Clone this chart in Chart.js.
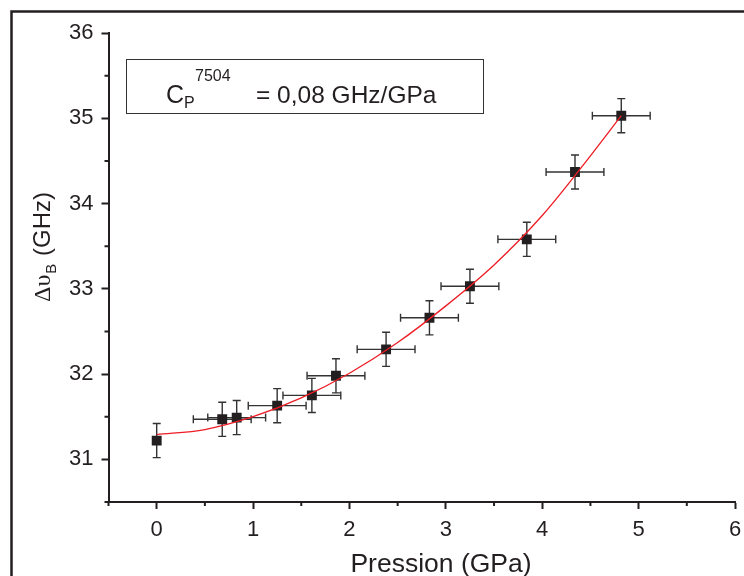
<!DOCTYPE html>
<html>
<head>
<meta charset="utf-8">
<script src="https://cdn.jsdelivr.net/npm/chart.js@4"></script>
<style>
  html, body { margin: 0; padding: 0; background: #fff; }
  #wrap { width: 744px; height: 576px; }
</style>
</head>
<body>
<div id="wrap"><canvas id="brillouin" width="744" height="576"></canvas></div>
<script>
// measured points
const pressure = [0, 0.68, 0.83, 1.25, 1.61, 1.86, 2.38, 2.83, 3.25, 3.84, 4.34, 4.82];
const shift    = [31.22, 31.47, 31.49, 31.63, 31.75, 31.98, 32.29, 32.66, 33.03, 33.58, 34.37, 35.03];
const xErr     = [0, 0.3, 0.3, 0.3, 0.3, 0.3, 0.3, 0.3, 0.3, 0.3, 0.3, 0.3];
const yErr     = [0.2, 0.2, 0.2, 0.2, 0.2, 0.2, 0.2, 0.2, 0.2, 0.2, 0.2, 0.2];

// red fit curve
const fitX = [0, 0.5, 1, 1.5, 2, 2.5, 3, 3.5, 4, 4.5, 4.82];
const fitY = [31.29, 31.35, 31.5, 31.72, 32.01, 32.37, 32.8, 33.28, 33.86, 34.56, 35.03];

const ink = '#231f20';

const points = pressure.map((x, i) => ({ x, y: shift[i] }));
const fit = fitX.map((x, i) => ({ x, y: fitY[i] }));

const isMajor = v => Math.abs(v - Math.round(v)) < 1e-6;

const errorBars = {
    id: 'errorBars',
    beforeDatasetsDraw(chart) {
        const { ctx, scales: { x, y } } = chart;
        ctx.save();
        ctx.strokeStyle = '#333';
        ctx.lineWidth = 1.4;
        const cap = 4;
        pressure.forEach((p, i) => {
            const px = x.getPixelForValue(p);
            const py = y.getPixelForValue(shift[i]);
            ctx.beginPath();
            if (yErr[i]) {
                const y0 = y.getPixelForValue(shift[i] - yErr[i]);
                const y1 = y.getPixelForValue(shift[i] + yErr[i]);
                ctx.moveTo(px, y0); ctx.lineTo(px, y1);
                ctx.moveTo(px - cap, y0); ctx.lineTo(px + cap, y0);
                ctx.moveTo(px - cap, y1); ctx.lineTo(px + cap, y1);
            }
            if (xErr[i]) {
                const x0 = x.getPixelForValue(p - xErr[i]);
                const x1 = x.getPixelForValue(p + xErr[i]);
                ctx.moveTo(x0, py); ctx.lineTo(x1, py);
                ctx.moveTo(x0, py - cap); ctx.lineTo(x0, py + cap);
                ctx.moveTo(x1, py - cap); ctx.lineTo(x1, py + cap);
            }
            ctx.stroke();
        });
        ctx.restore();
    }
};

const decorations = {
    id: 'decorations',
    afterDraw(chart) {
        const { ctx, chartArea, scales: { x, y } } = chart;
        ctx.save();

        // outer frame of the figure
        ctx.strokeStyle = ink;
        ctx.lineWidth = 2.5;
        ctx.strokeRect(11.5, 11.5, 760, 600);

        // minor ticks
        ctx.lineWidth = 2;
        ctx.beginPath();
        x.ticks.forEach(t => {
            if (isMajor(t.value)) return;
            const px = x.getPixelForValue(t.value);
            ctx.moveTo(px, chartArea.bottom); ctx.lineTo(px, chartArea.bottom + 4);
        });
        y.ticks.forEach(t => {
            if (isMajor(t.value)) return;
            const py = y.getPixelForValue(t.value);
            ctx.moveTo(chartArea.left, py); ctx.lineTo(chartArea.left - 4, py);
        });
        ctx.stroke();

        // x title
        ctx.fillStyle = ink;
        ctx.textAlign = 'center';
        ctx.textBaseline = 'alphabetic';
        ctx.font = '26.5px "Liberation Sans"';
        ctx.fillText('Pression (GPa)', 441, 572);
        ctx.textAlign = 'left';

        // y title: Δυ_B (GHz)
        ctx.translate(50, 248);
        ctx.rotate(-Math.PI / 2);
        const fSerif = '24px "Liberation Serif"';
        const fSans = '24px "Liberation Sans"';
        const fSub = '15px "Liberation Sans"';
        ctx.font = fSerif; const w1 = ctx.measureText('\u0394\u03c5').width;
        ctx.font = fSub;   const w2 = ctx.measureText('B').width;
        ctx.font = fSans;  const w3 = ctx.measureText(' (GHz)').width;
        let sx = -(w1 + w2 + w3) / 2;
        ctx.font = fSerif; ctx.fillText('\u0394\u03c5', sx, 0); sx += w1;
        ctx.font = fSub;   ctx.fillText('B', sx + 1, 6); sx += w2 + 2;
        ctx.font = fSans;  ctx.fillText(' (GHz)', sx, 0);
        ctx.restore();

        // annotation box
        ctx.save();
        ctx.strokeStyle = '#333';
        ctx.lineWidth = 1;
        ctx.strokeRect(126.5, 59.5, 357, 54);
        ctx.fillStyle = ink;
        ctx.font = '25px "Liberation Sans"';
        ctx.fillText('C', 166, 103);
        ctx.font = '16px "Liberation Sans"';
        ctx.fillText('P', 184, 108);
        ctx.fillText('7504', 195, 81);
        ctx.font = '24.5px "Liberation Sans"';
        ctx.fillText('= 0,08 GHz/GPa', 256, 103);
        ctx.restore();
    }
};

new Chart(document.getElementById('brillouin'), {
    type: 'scatter',
    data: {
        datasets: [
            {
                type: 'line',
                data: fit,
                borderColor: '#ee1c24',
                borderWidth: 1.3,
                pointRadius: 0,
                fill: false,
                cubicInterpolationMode: 'monotone'
            },
            {
                data: points,
                pointStyle: 'rect',
                pointRadius: 7,
                pointBackgroundColor: ink,
                pointBorderWidth: 0
            }
        ]
    },
    options: {
        responsive: false,
        animation: false,
        layout: { padding: { left: 0, top: 33, right: 9, bottom: 0 } },
        plugins: {
            legend: { display: false },
            tooltip: { enabled: false }
        },
        scales: {
            x: {
                type: 'linear',
                min: -0.5,
                max: 6,
                afterFit: s => { s.height = 74; s.paddingRight = 0; s.paddingLeft = 0; },
                border: { display: true, color: ink, width: 2 },
                grid: {
                    drawOnChartArea: false,
                    tickLength: 7,
                    tickWidth: 2,
                    tickColor: c => isMajor(c.tick.value) ? ink : 'rgba(0,0,0,0)'
                },
                ticks: {
                    stepSize: 0.5,
                    padding: 8,
                    color: ink,
                    font: { family: 'Liberation Sans', size: 22 },
                    maxRotation: 0,
                    autoSkip: false,
                    callback: v => isMajor(v) ? String(Math.round(v)) : ''
                }
            },
            y: {
                type: 'linear',
                min: 30.5,
                max: 36,
                afterFit: s => { s.width = 108.5; s.paddingTop = 0; s.paddingBottom = 0; },
                border: { display: true, color: ink, width: 2 },
                grid: {
                    drawOnChartArea: false,
                    tickLength: 7,
                    tickWidth: 2,
                    tickColor: c => isMajor(c.tick.value) ? ink : 'rgba(0,0,0,0)'
                },
                ticks: {
                    stepSize: 0.5,
                    padding: 8,
                    color: ink,
                    font: { family: 'Liberation Sans', size: 22 },
                    autoSkip: false,
                    callback: v => isMajor(v) ? String(Math.round(v)) : ''
                }
            }
        }
    },
    plugins: [errorBars, decorations]
});
</script>
</body>
</html>
